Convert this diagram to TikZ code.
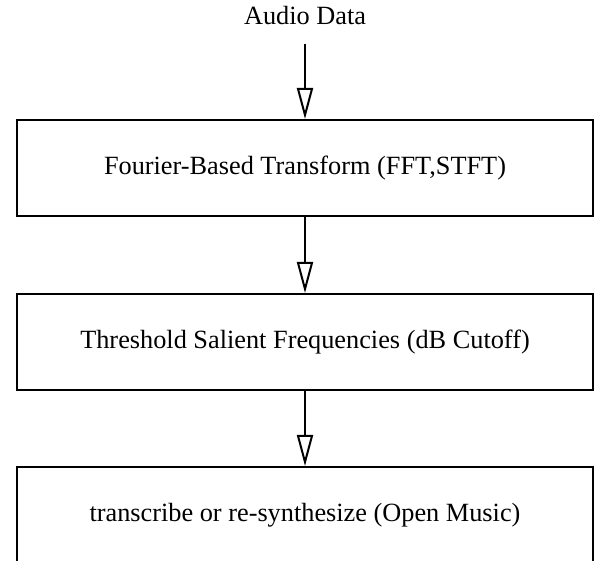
\documentclass[tikz,border=0pt]{standalone}
\usepackage{fontspec}
\setmainfont{Liberation Serif}
\usepackage{tikz}
\usetikzlibrary{positioning,arrows.meta}

\begin{document}
\begin{tikzpicture}[x=0.5pt,y=-0.5pt,
    font=\fontsize{13.15}{15.8}\selectfont,
    procbox/.style={draw,line width=1pt,minimum width=288pt,minimum height=48pt,inner sep=0pt},
    flow/.style={line width=1pt,-{Triangle[open,length=15.5pt,width=8pt]}}]
        \useasboundingbox (0,0) rectangle (595,561);

        % Input
        \node[anchor=base,inner sep=0pt] (audio) at (305,25) {Audio Data};

        % Processing steps
        \node[procbox] (fourier) at (305,168) {Fourier-Based Transform (FFT,STFT)};
        \node[procbox,below=38pt of fourier] (threshold) {Threshold Salient Frequencies (dB Cutoff)};
        \node[procbox,below=37.5pt of threshold] (output) {transcribe or re-synthesize (Open Music)};

        % Arrows
        \draw[flow,shorten <=9pt] (audio.south) -- (fourier.north);
        \draw[flow] (fourier.south) -- (threshold.north);
        \draw[flow] (threshold.south) -- (output.north);
      \end{tikzpicture}
\end{document}
